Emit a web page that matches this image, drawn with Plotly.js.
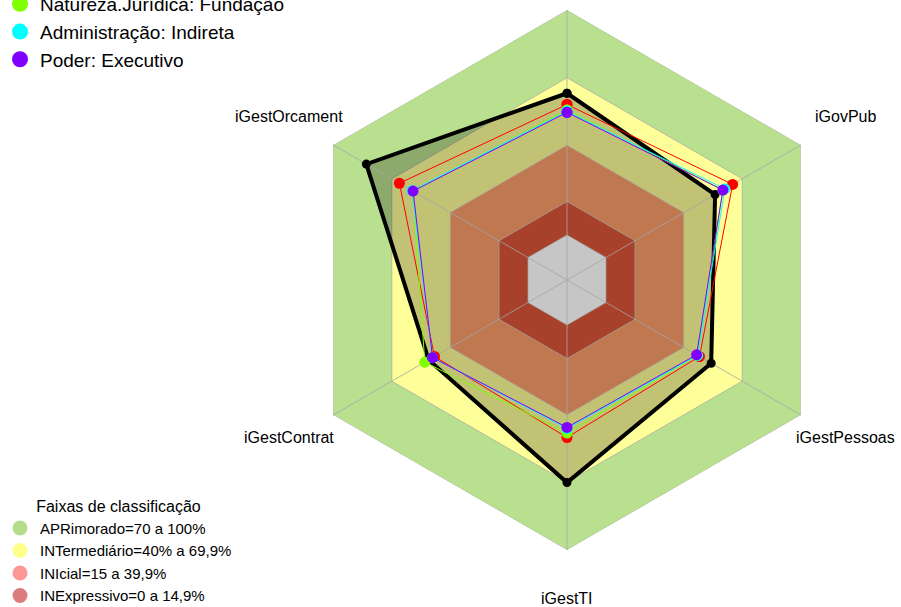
<!DOCTYPE html>
<html>
<head>
<meta charset="utf-8">
<script src="https://cdn.plot.ly/plotly-3.0.1.min.js"></script>
<style>html,body{margin:0;padding:0;background:#fff;}#chart{width:901px;height:607px;}</style>
</head>
<body>
<div id="chart"></div>
<script>
// ---- data ----
const categories = ["iGG", "iGovPub", "iGestPessoas", "iGestTI", "iGestContrat", "iGestOrcament"];
const axisLabels = ["", "iGovPub", "iGestPessoas", "iGestTI", "iGestContrat", "iGestOrcament"];

const serieOrgao        = [0.63, 0.56, 0.54, 0.70, 0.51, 0.83];   // black
const serieSegmento     = [0.58, 0.65, 0.48, 0.50, 0.48, 0.66];   // red
const serieNatureza     = [0.555, 0.60, 0.47, 0.48, 0.53, 0.59];  // green
const serieAdministracao= [0.55, 0.61, 0.47, 0.46, 0.49, 0.595];  // cyan
const seriePoder        = [0.545, 0.60, 0.465, 0.455, 0.49, 0.59];// purple

const legendNames = ["Natureza.Jurídica: Fundação", "Administração: Indireta", "Poder: Executivo"];

const bandLimits = [1.0, 0.699, 0.399, 0.149, 0.0];
const bandNames = ["APRimorado=70 a 100%", "INTermediário=40% a 69,9%", "INIcial=15 a 39,9%", "INExpressivo=0 a 14,9%"];

// ---- styles / layout geometry ----
const W = 901, H = 607, CX = 567, CY = 280, R = 270;
const bandFill = ["#B9E08F", "#FFFF99", "#C07850", "#A8412B", "#C6C6C6"];
const bandLegendColors = ["#B4DE8C", "#FFFF8C", "#FF9696", "#DC7D7D"];

const closeArr = a => a.concat([a[0]]);
const thetaC = closeArr(categories);

function band(i) {
  return {
    type: "scatterpolar", subplot: "polar", mode: "lines", fill: "toself",
    r: closeArr(categories.map(() => bandLimits[i])), theta: thetaC,
    fillcolor: bandFill[i], line: {color: "rgba(165,165,165,0.7)", width: 1},
    hoverinfo: "skip", showlegend: false
  };
}
function serie(vals, color, lw, ms) {
  return {
    type: "scatterpolar", subplot: "polar2", mode: "lines+markers",
    r: closeArr(vals), theta: thetaC,
    line: {color: color, width: lw}, marker: {color: color, size: ms},
    showlegend: false
  };
}

const traces = [
  band(0), band(1),
  // shaded area of the black series (under the inner bands)
  {type: "scatterpolar", subplot: "polar", mode: "none", fill: "toself", fillcolor: "rgba(0,0,0,0.24)",
   r: closeArr(serieOrgao), theta: thetaC, showlegend: false, hoverinfo: "skip"},
  band(2), band(3), band(4),
  serie(serieOrgao, "#000000", 4, 9),
  serie(serieSegmento, "#FF0000", 1, 11),
  serie(serieNatureza, "#7FFF00", 1, 11),
  serie(serieAdministracao, "#00FFFF", 1, 11),
  serie(seriePoder, "#8000FF", 1, 11)
];
// legend entries (single undrawn point so the entry is kept)
const legColors = ["#7FFF00", "#00FFFF", "#8000FF"];
legendNames.forEach((n, i) => traces.push({
  type: "scatterpolar", subplot: "polar2", mode: "markers", r: [null], theta: [categories[0]], name: n,
  marker: {color: legColors[i], size: 16}, legend: "legend"
}));
bandNames.forEach((n, i) => traces.push({
  type: "scatterpolar", subplot: "polar2", mode: "markers", r: [null], theta: [categories[0]], name: n,
  marker: {color: bandLegendColors[i], size: 15}, legend: "legend2"
}));

// axis label annotations
const LR = 1.19 * R, LCY = 277;
const annotations = [];
categories.forEach((c, k) => {
  if (!axisLabels[k]) return;
  const a = (90 - 60 * k) * Math.PI / 180;
  const px = CX + LR * Math.cos(a), py = LCY - LR * Math.sin(a);
  annotations.push({
    text: axisLabels[k], x: px / W, y: 1 - py / H, xref: "paper", yref: "paper",
    showarrow: false, xanchor: "center", yanchor: "middle",
    font: {family: "Liberation Sans, Arial, sans-serif", size: 16, color: "#000"}
  });
});

const dom = {x: [(CX - R) / W, (CX + R) / W], y: [1 - (CY + R) / H, 1 - (CY - R) / H]};
const radial = {range: [-0.2, 1], showgrid: false, showline: false, showticklabels: false, ticks: ""};
const layout = {
  width: W, height: H,
  margin: {l: 0, r: 0, t: 0, b: 0, autoexpand: false},
  paper_bgcolor: "#fff",
  font: {family: "Liberation Sans, Arial, sans-serif", color: "#000"},
  polar: {
    domain: dom, gridshape: "linear", bgcolor: "rgba(0,0,0,0)",
    radialaxis: radial,
    angularaxis: {type: "category", categoryarray: categories, direction: "clockwise", rotation: 90,
      showline: false, showticklabels: false, ticks: "", showgrid: false}
  },
  polar2: {
    domain: dom, gridshape: "linear", bgcolor: "rgba(0,0,0,0)",
    radialaxis: radial,
    angularaxis: {type: "category", categoryarray: categories, direction: "clockwise", rotation: 90,
      showline: false, showticklabels: false, ticks: "", showgrid: true,
      gridcolor: "rgba(165,165,165,0.8)", gridwidth: 1}
  },
  legend: {x: 0, xanchor: "left", y: 1 + 15 / H, yanchor: "top", bgcolor: "rgba(0,0,0,0)",
    font: {size: 19}, itemsizing: "trace"},
  legend2: {x: 0, xanchor: "left", y: 1 - 491 / H, yanchor: "top", bgcolor: "rgba(0,0,0,0)",
    font: {size: 15}, title: {text: "Faixas de classificação", side: "top center", font: {size: 16}}},
  annotations: annotations,
  showlegend: true
};

Plotly.newPlot("chart", traces, layout, {displayModeBar: false, staticPlot: true});
</script>
</body>
</html>
